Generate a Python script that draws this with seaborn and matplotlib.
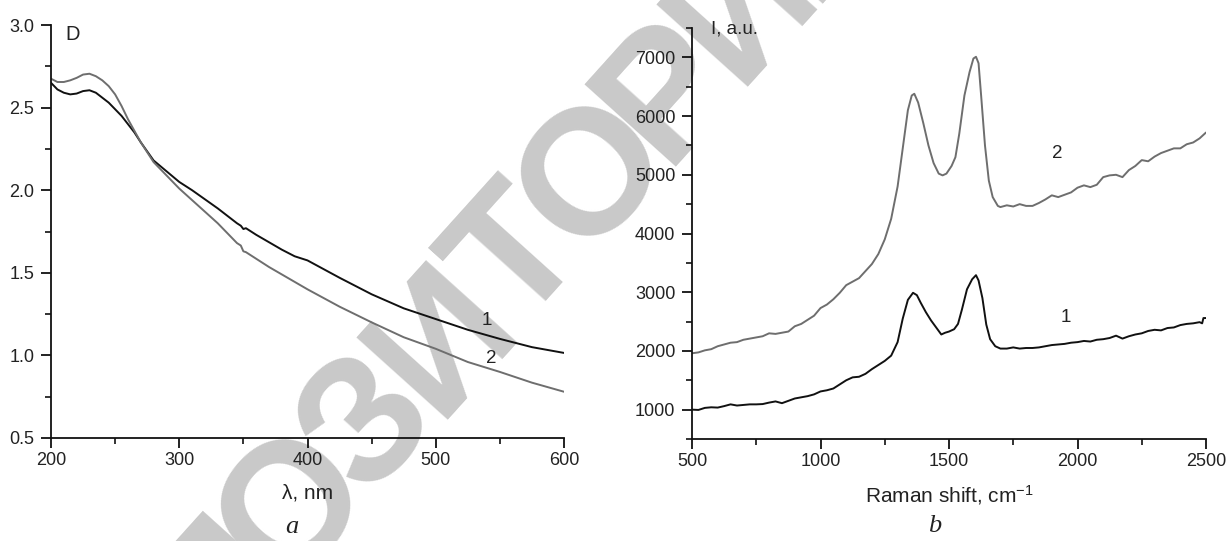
import numpy as np
import matplotlib
matplotlib.use("Agg")
import matplotlib.pyplot as plt
from matplotlib.ticker import MultipleLocator
import seaborn as sns

# Absorption spectra (panel a)
wavelength = [200, 205, 210, 215, 220, 225, 230, 235, 240, 245, 250, 255, 260, 265, 270,
              275, 280, 290, 300, 310, 320, 330, 340, 345, 348, 350, 352, 360, 370, 380,
              390, 400, 425, 450, 475, 500, 525, 550, 575, 600]
optical_density_1 = [2.65, 2.61, 2.59, 2.58, 2.585, 2.60, 2.605, 2.59, 2.56, 2.53, 2.49, 2.45,
                     2.40, 2.35, 2.29, 2.235, 2.18, 2.115, 2.05, 2.00, 1.945, 1.89, 1.83, 1.80,
                     1.785, 1.765, 1.77, 1.73, 1.685, 1.64, 1.60, 1.575, 1.47, 1.37, 1.285,
                     1.22, 1.155, 1.10, 1.05, 1.015]
optical_density_2 = [2.675, 2.655, 2.655, 2.665, 2.68, 2.70, 2.705, 2.69, 2.665, 2.63, 2.58,
                     2.51, 2.43, 2.36, 2.29, 2.23, 2.17, 2.09, 2.01, 1.94, 1.87, 1.80, 1.72,
                     1.68, 1.665, 1.63, 1.625, 1.585, 1.535, 1.49, 1.445, 1.40, 1.295, 1.20,
                     1.11, 1.04, 0.96, 0.90, 0.835, 0.78]

# Raman spectra (panel b)
shift_2 = [500, 525, 550, 575, 600, 625, 650, 675, 700, 725, 750, 775, 800, 825, 850, 875,
           900, 925, 950, 975, 1000, 1025, 1050, 1075, 1100, 1125, 1150, 1175, 1200, 1225,
           1250, 1275, 1300, 1320, 1340, 1355, 1365, 1380, 1400, 1420, 1440, 1460, 1475,
           1490, 1510, 1525, 1540, 1560, 1580, 1595, 1605, 1615, 1625, 1640, 1655, 1670,
           1690, 1700, 1725, 1750, 1775, 1800, 1825, 1850, 1875, 1900, 1925, 1950, 1975,
           2000, 2025, 2050, 2075, 2100, 2125, 2150, 2175, 2200, 2225, 2250, 2275, 2300,
           2325, 2350, 2375, 2400, 2425, 2450, 2475, 2500]
intensity_2 = [1960, 1975, 2010, 2030, 2080, 2110, 2140, 2150, 2190, 2210, 2230, 2250, 2300,
               2290, 2310, 2330, 2420, 2460, 2530, 2600, 2730, 2790, 2880, 2990, 3120, 3180,
               3240, 3360, 3480, 3650, 3900, 4250, 4800, 5450, 6100, 6350, 6380, 6230, 5880,
               5500, 5200, 5020, 4990, 5020, 5150, 5300, 5700, 6350, 6750, 6980, 7010, 6900,
               6350, 5500, 4900, 4620, 4470, 4450, 4480, 4460, 4500, 4470, 4470, 4520, 4580,
               4650, 4620, 4660, 4700, 4780, 4820, 4790, 4830, 4960, 4990, 5000, 4960, 5080,
               5150, 5250, 5230, 5310, 5370, 5410, 5450, 5450, 5520, 5550, 5620, 5720]
shift_1 = [500, 525, 550, 575, 600, 625, 650, 675, 700, 725, 750, 775, 800, 825, 850, 875,
           900, 925, 950, 975, 1000, 1025, 1050, 1075, 1100, 1125, 1150, 1175, 1200, 1225,
           1250, 1275, 1300, 1320, 1340, 1360, 1375, 1390, 1410, 1430, 1450, 1470, 1485,
           1500, 1520, 1535, 1550, 1570, 1590, 1605, 1615, 1630, 1645, 1660, 1680, 1700,
           1725, 1750, 1775, 1800, 1825, 1850, 1875, 1900, 1925, 1950, 1975, 2000, 2025,
           2050, 2075, 2100, 2125, 2150, 2175, 2200, 2225, 2250, 2275, 2300, 2325, 2350,
           2375, 2400, 2425, 2450, 2475, 2485, 2490, 2500]
intensity_1 = [1000, 995, 1030, 1040, 1035, 1060, 1090, 1070, 1080, 1090, 1090, 1095, 1120,
               1140, 1110, 1150, 1190, 1210, 1230, 1260, 1310, 1330, 1360, 1430, 1500, 1550,
               1560, 1610, 1690, 1760, 1830, 1920, 2150, 2550, 2870, 2990, 2950, 2820, 2660,
               2520, 2400, 2280, 2310, 2330, 2370, 2460, 2700, 3050, 3220, 3290, 3200, 2900,
               2450, 2200, 2080, 2040, 2040, 2060, 2040, 2050, 2050, 2060, 2080, 2100, 2110,
               2120, 2140, 2150, 2170, 2160, 2190, 2200, 2220, 2260, 2210, 2250, 2280, 2300,
               2340, 2360, 2350, 2390, 2400, 2440, 2460, 2470, 2490, 2470, 2560, 2560]

watermark = 'РЕПОЗИТОРИЙ'

sns.set_style("ticks")
plt.rcParams['font.family'] = ['Liberation Sans', 'DejaVu Sans']
plt.rcParams['mathtext.default'] = 'regular'

W, H = 1227, 541
fig = plt.figure(figsize=(W / 100, H / 100), dpi=100)
ax1 = fig.add_axes([51 / W, 103 / H, 513 / W, 413 / H])
ax2 = fig.add_axes([692 / W, 102 / H, 514 / W, 411 / H])

# repository watermark, letters set tightly along a diagonal, behind the plots;
# letters that fall wholly outside the picture are skipped
angle = np.deg2rad(48)
step = 112
for i, ch in enumerate(watermark):
    d = (i - 5) * step
    px = 445 + d * np.cos(angle)
    py = 342 - d * np.sin(angle)
    if py > H + 80 or py < -80:
        continue
    fig.text(px / W, 1 - py / H, ch, rotation=48, ha='center', va='center',
             fontsize=128, fontweight='bold', color='#c9c9c9', zorder=-1)

black = '#111111'
grey = '#6e6e6e'

sns.lineplot(x=wavelength, y=optical_density_1, color=black, linewidth=1.4, ax=ax1)
sns.lineplot(x=wavelength, y=optical_density_2, color=grey, linewidth=1.4, ax=ax1)
sns.lineplot(x=shift_1, y=intensity_1, color=black, linewidth=1.4, ax=ax2)
sns.lineplot(x=shift_2, y=intensity_2, color=grey, linewidth=1.4, ax=ax2)

ax1.set_xlim(200, 600)
ax1.set_ylim(0.5, 3.0)
ax1.xaxis.set_major_locator(MultipleLocator(100))
ax1.xaxis.set_minor_locator(MultipleLocator(50))
ax1.yaxis.set_major_locator(MultipleLocator(0.5))
ax1.yaxis.set_minor_locator(MultipleLocator(0.25))
ax1.yaxis.set_major_formatter(plt.FormatStrFormatter('%.1f'))

ax2.set_xlim(500, 2500)
ax2.set_ylim(500, 7500)
ax2.xaxis.set_major_locator(MultipleLocator(500))
ax2.xaxis.set_minor_locator(MultipleLocator(250))
ax2.set_yticks([1000, 2000, 3000, 4000, 5000, 6000, 7000])
ax2.yaxis.set_minor_locator(MultipleLocator(500))

for ax in (ax1, ax2):
    ax.set_facecolor('none')
    sns.despine(ax=ax)
    for side in ('left', 'bottom'):
        ax.spines[side].set_linewidth(1.3)
        ax.spines[side].set_color('#111111')
    ax.tick_params(which='major', direction='out', length=7, width=1.3, color='#111111',
                   labelsize=13, labelcolor='#222222')
    ax.tick_params(which='minor', direction='out', length=4, width=1.2, color='#111111')
    ax.tick_params(axis='x', pad=3)
    ax.tick_params(axis='y', pad=5)

ax1.set_xlabel('λ, nm', fontsize=15, color='#222222', va='center')
ax1.xaxis.set_label_coords(0.5, -0.133)
ax1.set_ylabel('')
ax2.set_xlabel('Raman shift, cm$^{-1}$', fontsize=15, color='#222222', va='center')
ax2.xaxis.set_label_coords(0.5, -0.137)
ax2.set_ylabel('')

ax1.text(211, 3.0, 'D', fontsize=14.5, va='top', color='#222222')
ax1.text(540, 1.214, '1', fontsize=13.5, ha='center', va='center', color='#222222')
ax1.text(543, 0.982, '2', fontsize=13.5, ha='center', va='center', color='#222222')
ax2.text(574, 7400, 'I, a.u.', fontsize=13.5, va='baseline', color='#222222', clip_on=False)
ax2.text(1920, 5360, '2', fontsize=13.5, ha='center', va='center', color='#222222')
ax2.text(1955, 2569, '1', fontsize=13.5, ha='center', va='center', color='#222222')

fig.text(292 / W, 1 - 527 / H, 'a', fontsize=19, style='italic',
         family=['Liberation Serif', 'DejaVu Serif'], ha='center', va='center', color='#222222')
fig.text(935 / W, 1 - 526 / H, 'b', fontsize=19, style='italic',
         family=['Liberation Serif', 'DejaVu Serif'], ha='center', va='center', color='#222222')

fig.savefig('out.png', dpi=100, facecolor='white')
